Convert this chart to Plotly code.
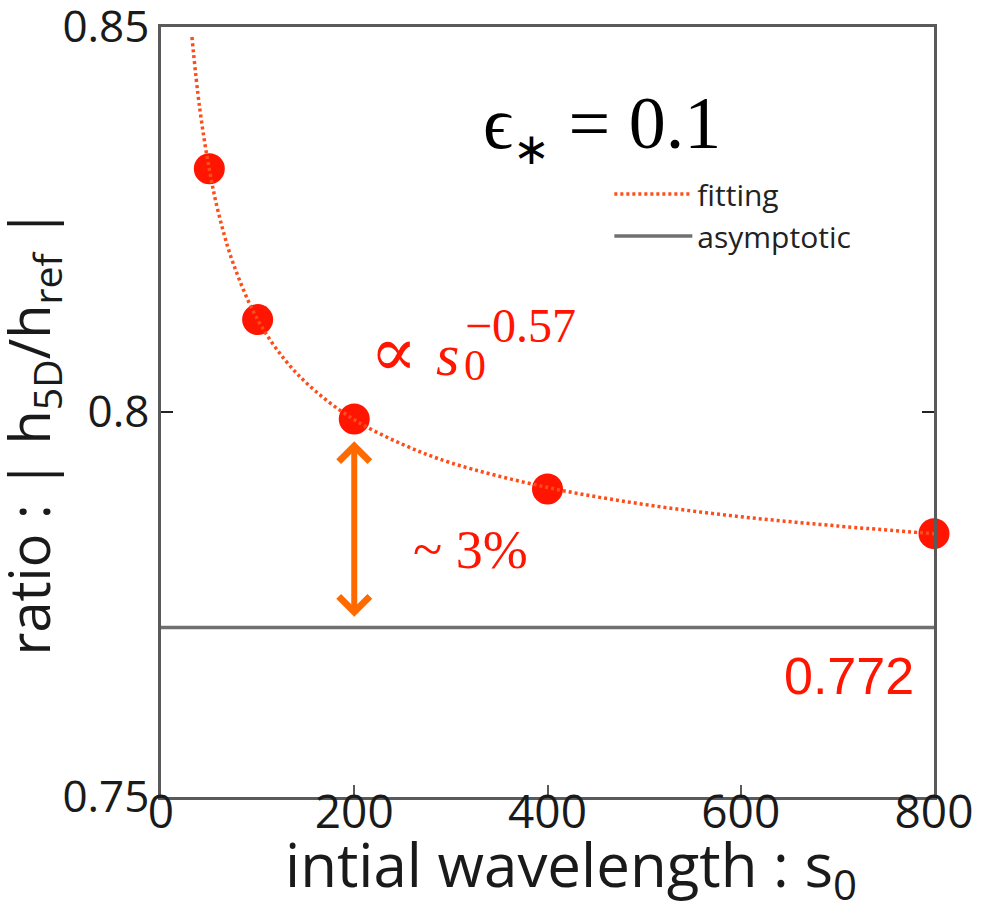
import plotly.graph_objects as go

# ---- data ----
s0_points = [50, 100, 200, 400, 800]
ratio_points = [0.8316, 0.8120, 0.7991, 0.7900, 0.7842]

fit_s0 = [32, 40, 50, 60, 75, 100, 130, 160, 200, 250, 300, 400, 500, 600, 700, 800]
fit_ratio = [0.8487, 0.8395, 0.8315, 0.8256, 0.8192, 0.8120, 0.8065, 0.8027,
             0.7990, 0.7958, 0.7934, 0.7902, 0.7880, 0.7864, 0.7852, 0.7842]

asym_s0 = [0, 800]
asym_value = 0.772

x_ticks = [0, 200, 400, 600, 800]
y_ticks = [0.75, 0.8, 0.85]
y_tick_labels = ["0.75", "0.8", "0.85"]

arrow_s0 = 200
arrow_bottom = 0.7734
arrow_top = 0.7964

RED = "#ff1500"
FIT = "#ff4d1a"
ORANGE = "#ff6a00"
GRAY = "#707070"
FRAME = "#5a5a5a"
SANS = "Open Sans"
SERIF = "Liberation Serif"

fig = go.Figure()

fig.add_trace(go.Scatter(
    x=asym_s0, y=[asym_value] * len(asym_s0), mode="lines",
    line=dict(color=GRAY, width=3.5), name="asymptotic", showlegend=True,
    legendrank=2,
))
fig.add_trace(go.Scatter(
    x=s0_points, y=ratio_points, mode="markers",
    marker=dict(color=RED, size=31, line=dict(width=0)),
    showlegend=False, cliponaxis=False,
))
fig.add_trace(go.Scatter(
    x=fit_s0, y=fit_ratio, mode="lines", line_shape="spline",
    line=dict(color=FIT, width=3.5, dash="3px,3px"), name="fitting",
    legendrank=1,
))

# double arrow
fig.add_annotation(
    x=arrow_s0, y=arrow_bottom, ax=arrow_s0, ay=arrow_top,
    xref="x", yref="y", axref="x", ayref="y",
    text="", showarrow=True, arrowhead=4, startarrowhead=4,
    arrowside="end+start", arrowsize=1, startarrowsize=1,
    arrowwidth=6, arrowcolor=ORANGE,
)

# text annotations
fig.add_annotation(x=456, y=0.8369, xref="x", yref="y",
                   xanchor="center", yanchor="middle",
                   text="ϵ<sub><span style='font-size:44px'>∗</span></sub> = 0.1",
                   showarrow=False,
                   font=dict(family=SERIF, size=74, color="black"))
fig.add_annotation(x=241, y=0.8078, xref="x", yref="y",
                   xanchor="center", yanchor="middle",
                   text="∝", showarrow=False,
                   font=dict(family="DejaVu Serif", size=70, color=RED))
fig.add_annotation(x=297, y=0.8074, xref="x", yref="y",
                   xanchor="center", yanchor="middle",
                   text="<i>s</i>", showarrow=False,
                   font=dict(family=SERIF, size=60, color=RED))
fig.add_annotation(x=311, y=0.8060, xref="x", yref="y",
                   xanchor="left", yanchor="middle",
                   text="0", showarrow=False,
                   font=dict(family=SERIF, size=44, color=RED))
fig.add_annotation(x=313, y=0.8112, xref="x", yref="y",
                   xanchor="left", yanchor="middle",
                   text="−0.57", showarrow=False,
                   font=dict(family=SERIF, size=48, color=RED))
fig.add_annotation(x=320, y=0.7821, xref="x", yref="y",
                   xanchor="center", yanchor="middle",
                   text="~ 3%", showarrow=False,
                   font=dict(family=SERIF, size=54, color=RED))
fig.add_annotation(x=712, y=0.7657, xref="x", yref="y",
                   xanchor="center", yanchor="middle",
                   text="0.772", showarrow=False,
                   font=dict(family="Liberation Sans", size=52, color=RED))

# axis titles
fig.add_annotation(x=-0.168, y=0.475, xref="paper", yref="paper",
                   xanchor="center", yanchor="middle",
                   text="ratio : | h<sub>5D</sub>/h<sub>ref</sub> |",
                   textangle=-90, showarrow=False,
                   font=dict(family=SANS, size=56, color="#1a1a1a"))
fig.add_annotation(x=0.53, y=-0.092, xref="paper", yref="paper",
                   xanchor="center", yanchor="middle",
                   text="intial wavelength : s<sub>0</sub>",
                   showarrow=False,
                   font=dict(family=SANS, size=60, color="#1a1a1a"))

fig.update_layout(
    width=981, height=913,
    margin=dict(l=161, r=47, t=27, b=116, autoexpand=False),
    paper_bgcolor="white", plot_bgcolor="white",
    showlegend=True,
    legend=dict(x=0.58, y=0.817, xanchor="left", yanchor="top",
                bgcolor="rgba(0,0,0,0)", borderwidth=0,
                font=dict(family=SANS, size=30, color="#222222"),
                itemwidth=78, tracegroupgap=0),
)
fig.update_xaxes(
    range=[0, 800], tickvals=x_ticks, ticks="inside", ticklen=12,
    tickwidth=2, tickcolor=FRAME, showline=True, linecolor=FRAME,
    linewidth=2.5, mirror=True, showgrid=False, zeroline=False,
    ticklabelstandoff=-27, automargin=False,
    tickfont=dict(family=SANS, size=46, color="#1a1a1a"),
)
fig.update_yaxes(
    range=[0.7499999, 0.8500001], tickvals=y_ticks, ticktext=y_tick_labels,
    ticks="inside", ticklen=12, tickwidth=2, tickcolor="#222",
    showline=True, linecolor=FRAME, linewidth=2.5, mirror="ticks",
    showgrid=False, zeroline=False, ticklabeloverflow="allow",
    automargin=False,
    tickfont=dict(family=SANS, size=44, color="#1a1a1a"),
)

fig.write_html("out.html")
